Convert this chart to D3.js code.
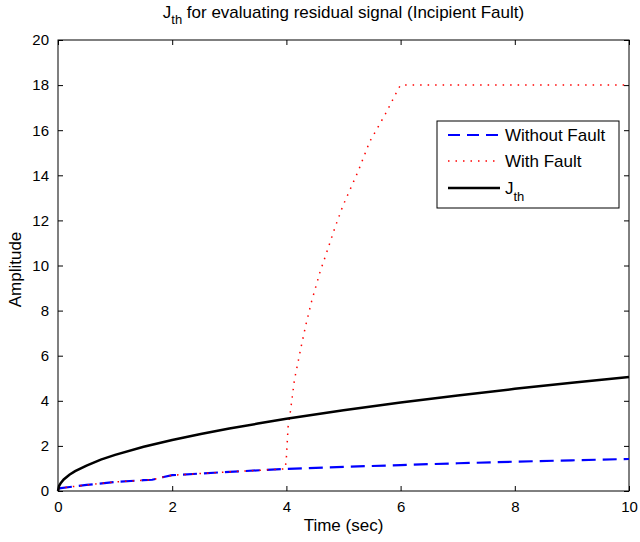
<!DOCTYPE html>
<html>
<head>
<meta charset="utf-8">
<script src="https://cdn.jsdelivr.net/npm/d3@7"></script>
<style>
  body { margin: 0; background: #fff; }
  text { font-family: "Liberation Sans", Arial, sans-serif; fill: #000; }
</style>
</head>
<body>
<div id="chart"></div>
<script>
//
// Values
//
const timeJth = [0, 0.02, 0.05, 0.1, 0.2, 0.3, 0.5, 0.75, 1, 1.5, 2, 2.5, 3, 3.5, 4, 5, 6, 7, 8, 9, 10]
const valuesJth = [0, 0.23, 0.36, 0.51, 0.72, 0.88, 1.13, 1.39, 1.6, 1.96, 2.26, 2.53, 2.77, 2.99, 3.2, 3.58, 3.92, 4.23, 4.53, 4.8, 5.06]

const timeNoFault = [0, 0.05, 0.5, 1, 1.5, 1.65, 1.85, 2, 3, 4, 5, 6, 7, 8, 9, 10]
const valuesNoFault = [0.1, 0.13, 0.27, 0.4, 0.48, 0.5, 0.62, 0.7, 0.85, 0.98, 1.07, 1.15, 1.23, 1.3, 1.36, 1.42]

const timeFault = [0, 0.05, 0.5, 1, 1.5, 1.65, 1.85, 2, 3, 3.98, 4.0, 4.03, 4.07, 4.14, 4.25, 4.34, 4.44, 4.59, 4.72, 4.85, 4.99, 5.26, 5.46, 5.73, 5.97, 6.0, 10]
const valuesFault = [0.1, 0.13, 0.27, 0.4, 0.48, 0.5, 0.62, 0.7, 0.85, 0.98, 1.5, 2.85, 3.52, 4.92, 6.3, 7.36, 8.4, 9.72, 10.69, 11.68, 12.65, 14.2, 15.5, 16.7, 17.88, 18, 18]

const xTicks = [0, 2, 4, 6, 8, 10]
const yTicks = [0, 2, 4, 6, 8, 10, 12, 14, 16, 18, 20]
const legendLabels = ['Without Fault', 'With Fault', 'J']

//
// Layout
//
const margin = { top: 40, right: 11, bottom: 51, left: 58 }
const width = 640 - margin.left - margin.right
const height = 542 - margin.top - margin.bottom

const svg = d3.select('#chart')
  .append('svg')
  .attr('width', 640)
  .attr('height', 542)

const g = svg.append('g')
  .attr('transform', 'translate(' + margin.left + ',' + margin.top + ')')

const x = d3.scaleLinear().domain([0, 10]).range([0, width])
const y = d3.scaleLinear().domain([0, 20]).range([height, 0])

//
// Axes (ticks inside, mirrored on top and right)
//
const tickLen = 5
function styleAxis (sel) {
  sel.select('.domain').remove()
  sel.selectAll('line').attr('stroke', '#000').attr('stroke-width', 1)
  sel.selectAll('text').style('font-size', '15px').attr('fill', '#000')
}

g.append('g')
  .attr('transform', 'translate(0,' + height + ')')
  .call(d3.axisBottom(x).tickValues(xTicks).tickSize(-tickLen).tickPadding(10))
  .call(styleAxis)

g.append('g')
  .call(d3.axisLeft(y).tickValues(yTicks).tickSize(-tickLen).tickPadding(9))
  .call(styleAxis)

g.append('g')
  .call(d3.axisTop(x).tickValues(xTicks).tickSize(-tickLen).tickFormat(''))
  .call(styleAxis)

g.append('g')
  .attr('transform', 'translate(' + width + ',0)')
  .call(d3.axisRight(y).tickValues(yTicks).tickSize(-tickLen).tickFormat(''))
  .call(styleAxis)

g.append('rect')
  .attr('width', width)
  .attr('height', height)
  .attr('fill', 'none')
  .attr('stroke', '#000')
  .attr('stroke-width', 1)

//
// Lines
//
const line = d3.line()
  .x(d => x(d[0]))
  .y(d => y(d[1]))

const plotArea = g.append('g')

plotArea.append('path')
  .datum(d3.zip(timeNoFault, valuesNoFault))
  .attr('d', line)
  .attr('fill', 'none')
  .attr('stroke', '#0000ff')
  .attr('stroke-width', 2.2)
  .attr('stroke-dasharray', '14,7')

plotArea.append('path')
  .datum(d3.zip(timeFault, valuesFault))
  .attr('d', line)
  .attr('fill', 'none')
  .attr('stroke', '#ff0000')
  .attr('stroke-width', 1.5)
  .attr('stroke-dasharray', '1.5,6')

plotArea.append('path')
  .datum(d3.zip(timeJth, valuesJth))
  .attr('d', line)
  .attr('fill', 'none')
  .attr('stroke', '#000')
  .attr('stroke-width', 2.5)

//
// Title and axis labels
//
const title = svg.append('text')
  .attr('x', margin.left + width / 2)
  .attr('y', 18)
  .attr('text-anchor', 'middle')
  .style('font-size', '17px')
title.append('tspan').text('J')
title.append('tspan').attr('dy', 6).style('font-size', '13px').text('th')
title.append('tspan').attr('dy', -6).text(' for evaluating residual signal (Incipient Fault)')

svg.append('text')
  .attr('x', margin.left + width / 2)
  .attr('y', 531)
  .attr('text-anchor', 'middle')
  .style('font-size', '17px')
  .text('Time (sec)')

svg.append('text')
  .attr('transform', 'translate(21,' + (margin.top + height / 2 + 4) + ') rotate(-90)')
  .attr('text-anchor', 'middle')
  .style('font-size', '17px')
  .text('Amplitude')

//
// Legend
//
const legend = svg.append('g').attr('transform', 'translate(437,121)')
legend.append('rect')
  .attr('width', 182)
  .attr('height', 87)
  .attr('fill', '#fff')
  .attr('stroke', '#000')
  .attr('stroke-width', 1)

const legendStyles = [
  { stroke: '#0000ff', width: 2.2, dash: '12,7' },
  { stroke: '#ff0000', width: 1.5, dash: '1.5,6' },
  { stroke: '#000', width: 2.5, dash: null }
]
const rowY = [14, 40, 67]

legendLabels.forEach(function (label, i) {
  legend.append('line')
    .attr('x1', 11).attr('x2', 63)
    .attr('y1', rowY[i]).attr('y2', rowY[i])
    .attr('stroke', legendStyles[i].stroke)
    .attr('stroke-width', legendStyles[i].width)
    .attr('stroke-dasharray', legendStyles[i].dash)
  const t = legend.append('text')
    .attr('x', 68)
    .attr('y', rowY[i] + 6)
    .style('font-size', '17px')
  t.append('tspan').text(label)
  if (i === 2) {
    t.append('tspan').attr('dy', 7).style('font-size', '13px').text('th')
  }
})
</script>
</body>
</html>
